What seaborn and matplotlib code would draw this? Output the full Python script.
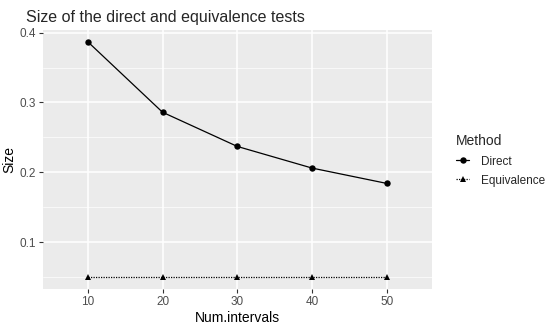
import pandas as pd
import matplotlib
matplotlib.use('Agg')
import matplotlib.pyplot as plt
import seaborn as sns
from matplotlib.ticker import MultipleLocator

# data
num_intervals = ['10', '20', '30', '40', '50']
size_direct = [0.387, 0.286, 0.237, 0.206, 0.184]
size_equivalence = [0.05, 0.05, 0.05, 0.05, 0.05]
methods = ['Direct', 'Equivalence']

df = pd.DataFrame({
    'Num.intervals': num_intervals * 2,
    'Size': size_direct + size_equivalence,
    'Method': [methods[0]] * len(num_intervals) + [methods[1]] * len(num_intervals),
})

sns.set_theme(style='darkgrid', rc={
    'axes.facecolor': '#EBEBEB',
    'grid.color': 'white',
    'axes.edgecolor': 'white',
})
plt.rcParams['font.family'] = ['Liberation Sans', 'DejaVu Sans']

fig, ax = plt.subplots(figsize=(5.5, 3.32), dpi=100)
fig.subplots_adjust(left=0.078, right=0.785, top=0.91, bottom=0.13)

sns.lineplot(data=df, x='Num.intervals', y='Size', hue='Method', style='Method',
             palette={'Direct': 'black', 'Equivalence': 'black'},
             markers={'Direct': 'o', 'Equivalence': '^'},
             dashes={'Direct': '', 'Equivalence': (1, 1)},
             markersize=4.6, linewidth=0.9, markeredgewidth=0, ax=ax)

ax.set_xlim(-0.6, 4.6)
ax.set_ylim(0.033, 0.404)
ax.yaxis.set_major_locator(MultipleLocator(0.1))
ax.yaxis.set_minor_locator(MultipleLocator(0.05))
ax.grid(which='major', color='white', linewidth=1.1)
ax.grid(which='minor', axis='y', color='white', linewidth=0.5)
ax.grid(which='minor', axis='x', visible=False)
for s in ax.spines.values():
    s.set_visible(False)

ax.tick_params(axis='both', which='major', length=3, width=0.8, color='#333333',
               labelsize=8.5, labelcolor='#4D4D4D', pad=2, bottom=True, left=True)
ax.tick_params(axis='both', which='minor', length=0)
ax.set_yticks([0.1, 0.2, 0.3, 0.4])
ax.set_yticklabels(['0.1', '0.2', '0.3', '0.4'])

ax.set_xlabel('Num.intervals', fontsize=10, color='black', labelpad=2)
ax.set_ylabel('Size', fontsize=10, color='black', labelpad=2)
ax.set_title('Size of the direct and equivalence tests', fontsize=11.5, loc='left',
             x=-0.043, pad=6)

handles, labels = ax.get_legend_handles_labels()
ax.get_legend().remove()
fig.legend(handles, labels, title='Method', loc='upper left',
           bbox_to_anchor=(0.81, 0.627), frameon=False, fontsize=8.5,
           title_fontsize=10, handlelength=1.1, handletextpad=1.0,
           labelspacing=0.6, alignment='left')

fig.savefig('out.png', dpi=100)
